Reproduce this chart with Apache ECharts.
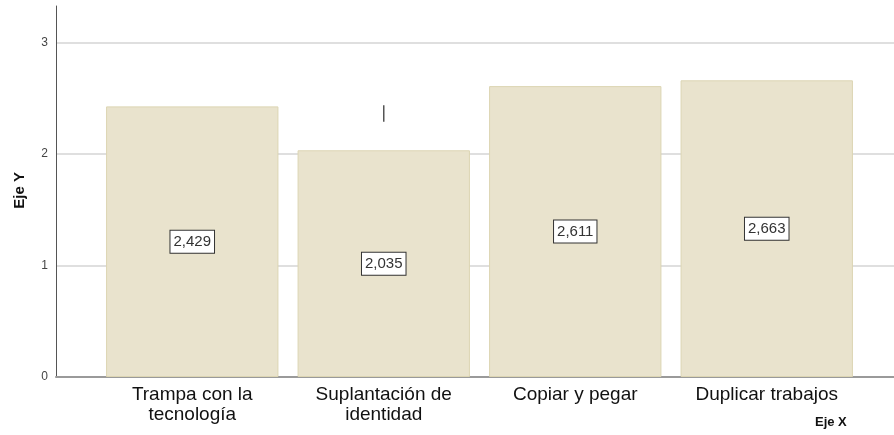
<!DOCTYPE html>
<html>
<head>
<meta charset="utf-8">
<script src="https://cdn.jsdelivr.net/npm/echarts@6/dist/echarts.min.js"></script>
<style>
  html, body { margin: 0; padding: 0; background: #fff; }
  #main { width: 894px; height: 435px; }
</style>
</head>
<body>
<div id="main"></div>
<script>
// datos
var categorias = ['Trampa con la\ntecnología', 'Suplantación de\nidentidad', 'Copiar y pegar', 'Duplicar trabajos'];
var medias = [2.429, 2.035, 2.611, 2.663];
// trazo de error visible solo en la segunda barra: [categoría, bajo, alto]
var errores = [[1, 2.29, 2.44]];
var ejeYMax = 3.33;

var myChart = echarts.init(document.getElementById('main'));

var option = {
  backgroundColor: '#fff',
  animation: false,
  textStyle: { fontFamily: 'Liberation Sans, Arial, sans-serif' },
  grid: [
    { left: 56, right: 0, top: 6, bottom: 58 },
    { left: 96.5, right: 31.5, top: 6, bottom: 58 }
  ],
  xAxis: [
    {//eje de fondo con línea inferior
      gridIndex: 0,
      type: 'category',
      data: [''],
      axisLine: { lineStyle: { color: '#9a9a9a', width: 2 } },
      axisTick: { show: false },
      axisLabel: { show: false },
      splitLine: { show: false }
    },
    {
      gridIndex: 1,
      type: 'category',
      data: categorias,
      axisLine: { show: false },
      axisTick: { show: false },
      axisLabel: {
        color: '#111',
        fontSize: 19,
        lineHeight: 20,
        margin: 8,
        interval: 0
      }
    }
  ],
  yAxis: [
    {
      gridIndex: 0,
      type: 'value',
      min: 0,
      max: ejeYMax,
      interval: 1,
      axisLine: { show: true, lineStyle: { color: '#555', width: 1 } },
      axisTick: { show: false },
      axisLabel: {
        color: '#444',
        fontSize: 12,
        margin: 8,
        showMaxLabel: false
      },
      splitLine: { showMaxLine: false, lineStyle: { color: '#d4d4d4', width: 1.5 } }
    },
    {
      gridIndex: 1,
      type: 'value',
      min: 0,
      max: ejeYMax,
      show: false,
      splitLine: { show: false }
    }
  ],
  graphic: [
    {
      type: 'text',
      left: 12,
      top: 172,
      rotation: Math.PI / 2,
      style: {
        text: 'Eje Y',
        font: 'bold 15px Liberation Sans, Arial, sans-serif',
        fill: '#111'
      }
    },
    {
      type: 'text',
      left: 815,
      top: 416,
      style: {
        text: 'Eje X',
        font: 'bold 13px Liberation Sans, Arial, sans-serif',
        fill: '#111'
      }
    }
  ],
  series: [
    {
      type: 'bar',
      xAxisIndex: 1,
      yAxisIndex: 1,
      barCategoryGap: '10%',
      data: medias,
      itemStyle: {
        color: '#e9e3cd',
        borderColor: '#dcd5b3',
        borderWidth: 1
      },
      label: {
        show: true,
        position: 'inside',
        color: '#333',
        fontSize: 15,
        backgroundColor: '#fff',
        borderColor: '#333',
        borderWidth: 1,
        padding: [4, 3, 3, 3],
        formatter: function (p) {
          return p.value.toFixed(3).replace('.', ',');
        }
      }
    },
    {
      type: 'custom',
      xAxisIndex: 1,
      yAxisIndex: 1,
      data: errores,
      renderItem: function (params, api) {
        var p1 = api.coord([api.value(0), api.value(1)]);
        var p2 = api.coord([api.value(0), api.value(2)]);
        return {
          type: 'line',
          shape: { x1: p1[0], y1: p1[1], x2: p2[0], y2: p2[1] },
          style: { stroke: '#555', lineWidth: 1.5 }
        };
      }
    }
  ]
};

myChart.setOption(option);
window.onresize = myChart.resize;
</script>
</body>
</html>
